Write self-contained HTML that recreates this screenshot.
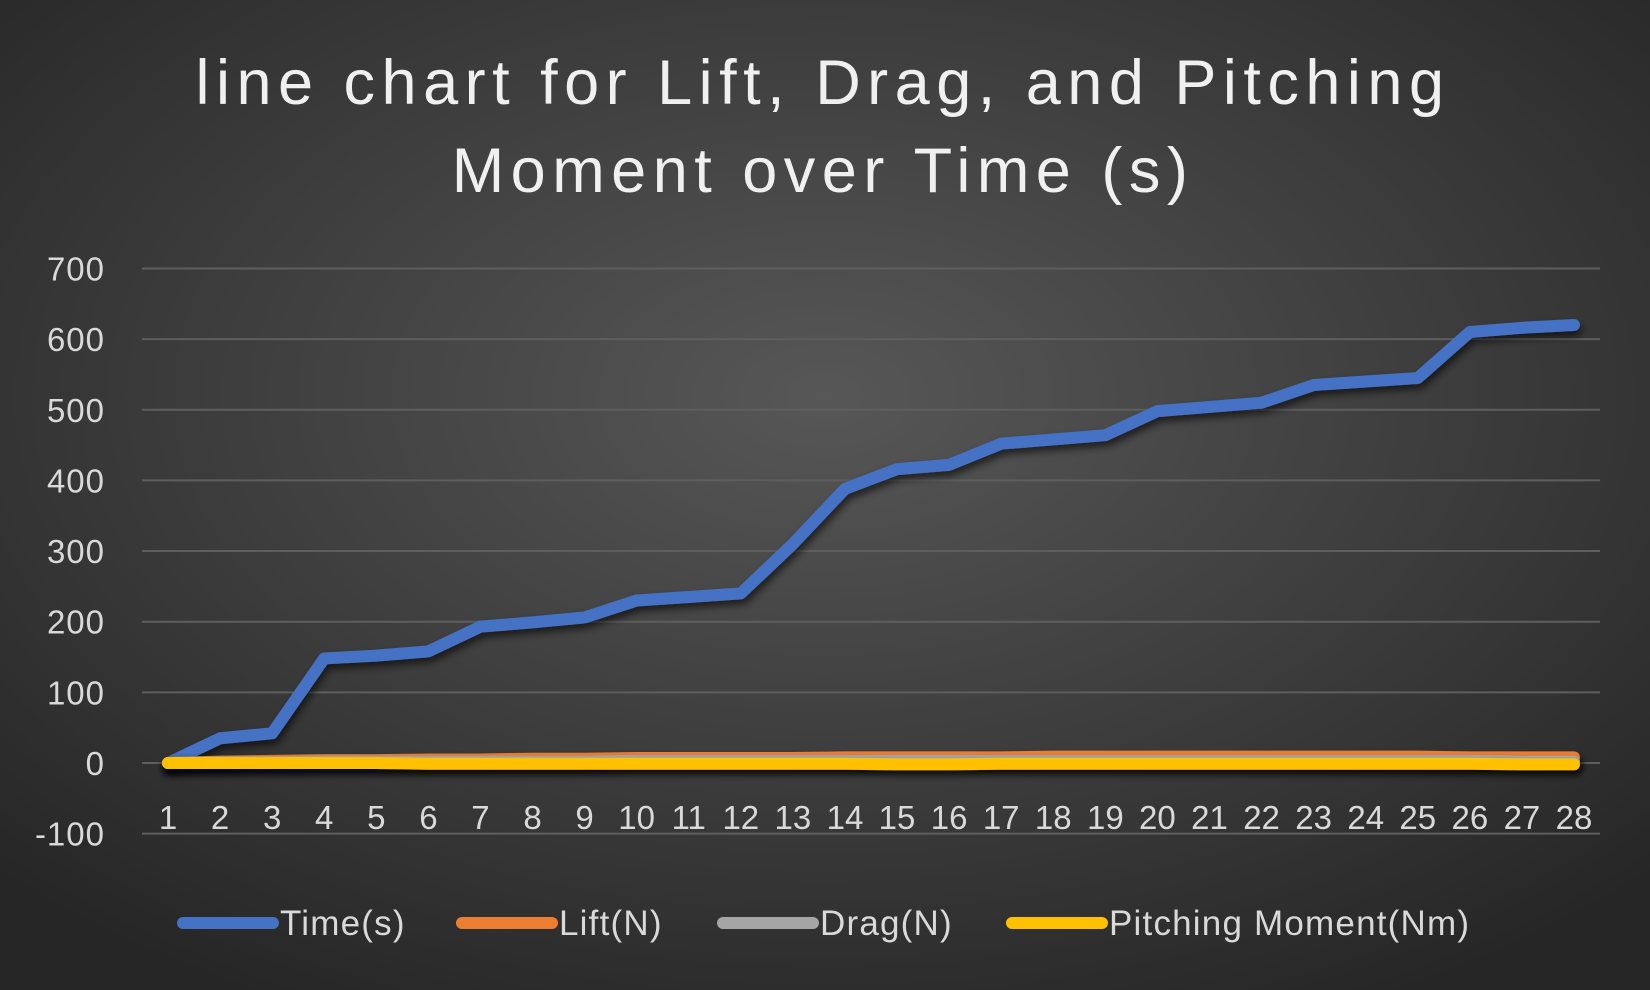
<!DOCTYPE html>
<html><head><meta charset="utf-8"><style>
html,body{margin:0;padding:0;background:#2b2b2b;}
svg{display:block;font-family:"Liberation Sans",sans-serif;}
</style></head><body>
<svg id="chart" width="1650" height="990" viewBox="0 0 1650 990">
<defs>
<radialGradient id="bg" cx="50%" cy="40%" r="70%">
<stop offset="0" stop-color="#575757"/><stop offset="1" stop-color="#262626"/>
</radialGradient>
<filter id="sh" filterUnits="userSpaceOnUse" x="0" y="0" width="1650" height="990"><feDropShadow dx="2" dy="5" stdDeviation="4" flood-color="#000" flood-opacity="0.6"/></filter>
</defs>
<rect width="1650" height="990" fill="url(#bg)"/>
<text x="823" y="104" text-anchor="middle" font-size="63" fill="#f0f0f0" letter-spacing="6.5">line chart for Lift, Drag, and Pitching</text>
<text x="823" y="192" text-anchor="middle" font-size="63" fill="#f0f0f0" letter-spacing="6.5">Moment over Time (s)</text>
<g id="grid"></g><g id="yt"></g><g id="xt"></g><g id="series"></g><g id="legend"></g>
</svg>
<script>
const categories=[1,2,3,4,5,6,7,8,9,10,11,12,13,14,15,16,17,18,19,20,21,22,23,24,25,26,27,28];
const timeS=[0,35,42,148,152,158,193,199,206,230,235,240,310,388,416,422,452,458,464,498,504,510,535,540,545,610,616,620];
const liftN=[0,2,3,4,4,5,5,6,6,7,7,7,7,8,8,8,8,9,9,9,9,9,9,9,9,8,8,8];
const dragN=[0,1,1,2,2,2,2,2,2,3,3,3,3,3,3,3,3,3,3,3,3,3,3,3,3,3,2,2];
const pitchNm=[0,0,0,0,0,-1,-1,-1,-1,-1,-1,-1,-1,-1,-2,-2,-1,-1,-1,-1,-1,-1,-1,-1,-1,-1,-2,-2];
const yTicks=[700,600,500,400,300,200,100,0,-100];
const seriesNames=["Time(s)","Lift(N)","Drag(N)","Pitching Moment(Nm)"];
const colors=["#4472c4","#ed7d31","#a5a5a5","#ffc000"];
const NS="http://www.w3.org/2000/svg";
const x0=142,x1=1600,cx0=168,cx1=1574;
function xs(i){return cx0+(cx1-cx0)*i/(categories.length-1);}
function ys(v){return 763-(v)*0.7065;}
function mk(t,a,p){const e=document.createElementNS(NS,t);for(const k in a)e.setAttribute(k,a[k]);p.appendChild(e);return e;}
const G=document.getElementById('grid'),YT=document.getElementById('yt'),XT=document.getElementById('xt'),S=document.getElementById('series'),L=document.getElementById('legend');
yTicks.forEach(v=>{
 const l=mk('line',{x1:x0,x2:x1,y1:ys(v),y2:ys(v),stroke:'#5e5e5e','stroke-width':2},G);
 
 
 const t=mk('text',{x:105,y:ys(v)+12,'text-anchor':'end','font-size':33,fill:'#d9d9d9','letter-spacing':1},YT);
 t.textContent=v;
 
 
});
categories.forEach((c,i)=>{
 const t=mk('text',{x:xs(i),y:829,'text-anchor':'middle','font-size':33,fill:'#d9d9d9'},XT);
 t.textContent=c;
 
 
});
[timeS,liftN,dragN,pitchNm].forEach((arr,k)=>{
 const p=mk('polyline',{points:arr.map((v,i)=>xs(i)+','+ys(v)).join(' '),fill:'none',stroke:colors[k],'stroke-width':12,'stroke-linejoin':'round','stroke-linecap':'round',filter:'url(#sh)'},S);
 
 
});
const lx=[183,462,723,1012];
seriesNames.forEach((n,k)=>{
 const g=mk('g',{},L);
 
 
 mk('line',{x1:lx[k],x2:lx[k]+90,y1:923,y2:923,stroke:colors[k],'stroke-width':12,'stroke-linecap':'round'},g);
 const t=mk('text',{x:lx[k]+97,y:935,'font-size':35,fill:'#d9d9d9','letter-spacing':1.2},g);
 t.textContent=n;
});
</script>
</body></html>
